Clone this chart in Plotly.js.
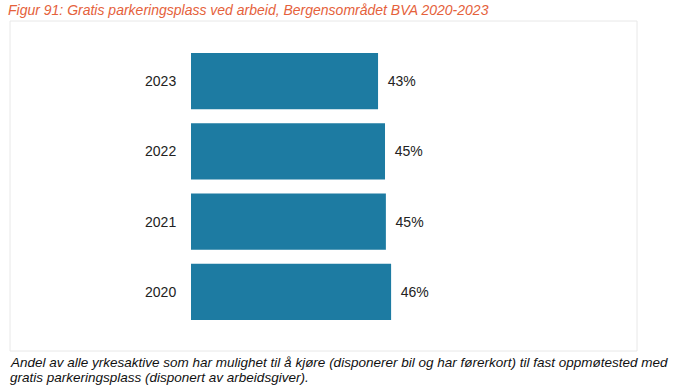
<!DOCTYPE html>
<html>
<head>
<meta charset="utf-8">
<script src="https://cdn.plot.ly/plotly-3.0.1.min.js"></script>
<style>html,body{margin:0;padding:0;background:#fff}#chart{width:699px;height:392px}</style>
</head>
<body>
<div id="chart"></div>
<script>
const years = ['2020', '2021', '2022', '2023'];
const shares = [46, 44.8, 44.6, 43];
const titleText = 'Figur 91: Gratis parkeringsplass ved arbeid, Bergensområdet BVA 2020-2023';
const captionLines = [
  'Andel av alle yrkesaktive som har mulighet til å kjøre (disponerer bil og har førerkort) til fast oppmøtested med',
  'gratis parkeringsplass (disponert av arbeidsgiver).'
];

const W = 699, H = 392;
const L = 191, R = 73, T = 46, B = 65;
const pw = W - L - R, ph = H - T - B;
const px = x => (x - L) / pw;
const py = y => (H - B - y) / ph;
const FONT = 'Liberation Sans, Arial, sans-serif';

const trace = {
  type: 'bar', orientation: 'h',
  x: shares, y: years,
  marker: {color: '#1d7ba2'},
  texttemplate: '\u00a0\u2009%{x:.0f}%',
  textposition: 'outside',
  cliponaxis: false,
  textfont: {family: FONT, size: 14, color: '#222'},
  hoverinfo: 'none'
};

const captionAnn = captionLines.map((t, i) => ({
  xref: 'paper', yref: 'paper', x: px(8), y: py(362.5 + i * 14.5),
  xanchor: 'left', yanchor: 'middle', align: 'left', showarrow: false,
  text: t,
  font: {family: FONT, size: 13.5, color: '#111', style: 'italic'}
}));

const layout = {
  width: W, height: H,
  margin: {l: L, r: R, t: T, b: B, pad: 0},
  paper_bgcolor: '#fff', plot_bgcolor: 'rgba(0,0,0,0)',
  showlegend: false,
  bargap: 0.2,
  uniformtext: {mode: false},
  title: {
    text: titleText,
    xref: 'container', yref: 'container',
    x: 8 / W, xanchor: 'left', y: 1 - 10.5 / H, yanchor: 'middle',
    font: {family: FONT, size: 14, color: '#e5613b', style: 'italic'}
  },
  xaxis: {range: [0, 100], visible: false, fixedrange: true},
  yaxis: {
    type: 'category', range: [-0.5, 3.5],
    showgrid: false, zeroline: false, showline: false,
    ticks: 'outside', ticklen: 11, tickcolor: 'rgba(0,0,0,0)',
    tickfont: {family: FONT, size: 14, color: '#222'}
  },
  shapes: [{
    type: 'rect', xref: 'paper', yref: 'paper',
    x0: px(10), x1: px(637), y0: py(351), y1: py(21),
    line: {color: '#e8e8e8', width: 1}, fillcolor: 'rgba(0,0,0,0)', layer: 'below'
  }],
  annotations: captionAnn
};

Plotly.newPlot('chart', [trace], layout, {displayModeBar: false, staticPlot: true});
</script>
</body>
</html>
